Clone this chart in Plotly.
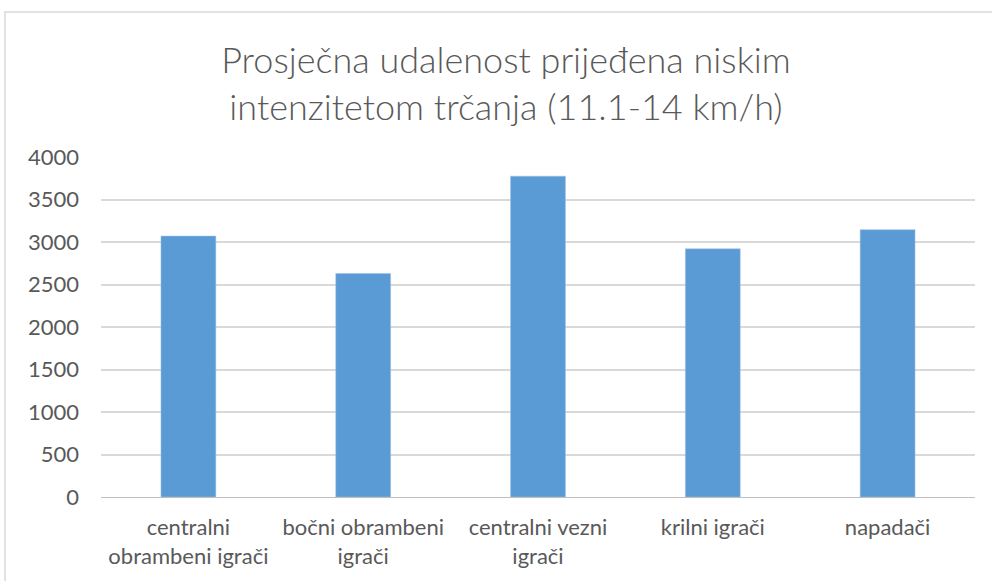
import plotly.graph_objects as go

categories = ["centralni<br>obrambeni igrači", "bočni obrambeni<br>igrači",
              "centralni vezni<br>igrači", "krilni igrači", "napadači"]
values = [3070, 2630, 3775, 2920, 3145]
y_ticks = [0, 500, 1000, 1500, 2000, 2500, 3000, 3500, 4000]
title_text = "Prosječna udalenost prijeđena niskim<br>intenzitetom trčanja (11.1-14 km/h)"

FONT = "Lato"
GRAY = "#595959"

fig = go.Figure(go.Bar(
    x=categories, y=values,
    marker=dict(color="#5B9BD5", line=dict(color="#9DC3E6", width=0.5)),
))

W, H = 992, 581
L, R, T, B = 101, 17, 157, 84
pw, ph = W - L - R, H - T - B

fig.update_layout(
    width=W, height=H,
    margin=dict(l=L, r=R, t=T, b=B),
    paper_bgcolor="white", plot_bgcolor="white",
    bargap=0.686,
    showlegend=False,
    title=dict(text=title_text, x=506 / W, xref="container", xanchor="center",
               y=1 - 73 / H, yref="container", yanchor="middle",
               font=dict(family=FONT, size=36, color=GRAY, weight=300)),
    font=dict(family=FONT, color=GRAY, size=22),
    xaxis=dict(showgrid=False, showline=True, linecolor="#bfbfbf", linewidth=1,
               tickfont=dict(size=22, color=GRAY), ticks="", ticklen=0, ticklabelstandoff=11),
    yaxis=dict(range=[0, 4000], tickvals=y_ticks, showgrid=True, gridcolor="#d9d9d9",
               gridwidth=1.5, zeroline=False, showline=False, ticks="", ticklen=0,
               tickfont=dict(size=22, color=GRAY), ticklabelstandoff=21),
    shapes=[dict(type="rect", xref="paper", yref="paper",
                 x0=(5 - L) / pw, x1=(W + 10 - L) / pw,
                 y0=-(B + 10) / ph, y1=(H - B - 12) / ph,
                 line=dict(color="#d9d9d9", width=1.5), layer="below")],
)

fig.write_html("out.html", config={"displayModeBar": False},
               post_script="document.body.style.margin='0';document.body.style.padding='0';")
